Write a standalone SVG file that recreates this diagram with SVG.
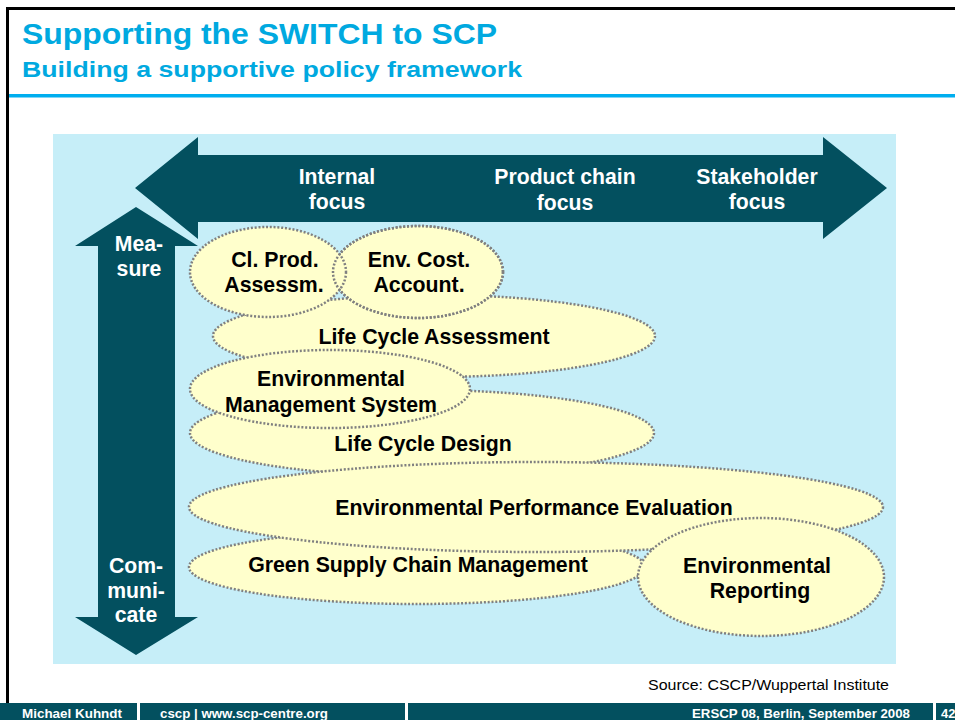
<svg xmlns="http://www.w3.org/2000/svg" width="955" height="720" viewBox="0 0 955 720">
<style>
.t{font-family:"Liberation Sans",Arial,sans-serif;font-weight:bold}
.title{fill:#00A9E0}
.w{fill:#fff;font-size:21.2px;text-anchor:middle}
.e{fill:#FFFFCC;stroke:#808080;stroke-width:2.5;stroke-dasharray:2 1.8}
.o{fill:none;stroke:#808080;stroke-width:2.5;stroke-dasharray:2 1.8}
.k{fill:#000;font-size:21.3px;text-anchor:middle}
.ft{fill:#fff;font-size:13px}
.teal{fill:#03505F}
</style>
<rect x="0" y="0" width="955" height="720" fill="#fff"/>
<!-- frame -->
<line x1="6" y1="8.5" x2="955" y2="8.5" stroke="#000" stroke-width="3"/>
<line x1="7.5" y1="7" x2="7.5" y2="705" stroke="#000" stroke-width="3"/>
<rect x="9" y="94" width="946" height="3.5" fill="#00AEEF"/>
<text class="t title" x="22" y="44" font-size="30" textLength="475" lengthAdjust="spacingAndGlyphs">Supporting the SWITCH to SCP</text>
<text class="t title" x="22" y="77" font-size="22.5" textLength="500" lengthAdjust="spacingAndGlyphs">Building a supportive policy framework</text>
<!-- panel -->
<rect x="53" y="134" width="843" height="530" fill="#C6EEF8"/>
<g id="horizontal-arrow">
<polygon class="teal" points="135,188 198,137 198,155 823,155 823,137 887,188 823,239 823,222 198,222 198,239"/>
<text class="t w" x="337" y="184">Internal</text>
<text class="t w" x="337" y="209">focus</text>
<text class="t w" x="565" y="184">Product chain</text>
<text class="t w" x="565" y="210">focus</text>
<text class="t w" x="757" y="184">Stakeholder</text>
<text class="t w" x="757" y="209">focus</text>
</g>
<g id="vertical-arrow">
<polygon class="teal" points="136,207 198,246 175,246 175,617 198,617 136,655 75,617 98,617 98,246 75,246"/>
<text class="t w" x="139" y="251">Mea-</text>
<text class="t w" x="139" y="276">sure</text>
<text class="t w" x="136" y="573">Com-</text>
<text class="t w" x="136" y="598">muni-</text>
<text class="t w" x="136" y="622">cate</text>
</g>
<g id="lca">
<ellipse class="e" cx="434" cy="336" rx="221" ry="41"/>
<text class="t k" x="434" y="344">Life Cycle Assessment</text>
</g>
<g id="lcd">
<ellipse class="e" cx="422" cy="433" rx="232" ry="43"/>
<text class="t k" x="423" y="451">Life Cycle Design</text>
</g>
<g id="ems">
<ellipse class="e" cx="330" cy="389" rx="140" ry="39"/>
<text class="t k" x="331" y="386">Environmental</text>
<text class="t k" x="331" y="412">Management System</text>
</g>
<g id="env-cost">
<ellipse class="e" cx="418" cy="272" rx="85" ry="46"/>
</g>
<g id="cl-prod">
<ellipse class="e" cx="268" cy="272" rx="78" ry="45"/>
<ellipse class="o" cx="418" cy="272" rx="85" ry="46"/>
<text class="t k" x="275" y="267">Cl. Prod.</text>
<text class="t k" x="274" y="292">Assessm.</text>
<text class="t k" x="419" y="267">Env. Cost.</text>
<text class="t k" x="419" y="292">Account.</text>
</g>
<g id="gscm">
<ellipse class="e" cx="417" cy="567" rx="228" ry="37"/>
<text class="t k" x="418" y="572">Green Supply Chain Management</text>
</g>
<g id="epe">
<ellipse class="e" cx="536" cy="507" rx="347" ry="45"/>
<text class="t k" x="534" y="515">Environmental Performance Evaluation</text>
</g>
<g id="env-reporting">
<ellipse class="e" cx="761" cy="577" rx="123" ry="59"/>
<text class="t k" x="757" y="573">Environmental</text>
<text class="t k" x="760" y="598">Reporting</text>
</g>
<g id="connectors"></g>
<text x="889" y="690" font-family="Liberation Sans,Arial,sans-serif" font-size="15.5" text-anchor="end" fill="#000" textLength="241" lengthAdjust="spacingAndGlyphs">Source: CSCP/Wuppertal Institute</text>
<!-- footer -->
<rect x="0" y="703" width="137" height="17" fill="#03505F"/>
<rect x="140" y="703" width="265" height="17" fill="#03505F"/>
<rect x="408" y="703" width="525" height="17" fill="#03505F"/>
<rect x="936" y="703" width="19" height="17" fill="#03505F"/>
<text class="t ft" x="22" y="718" textLength="100" lengthAdjust="spacingAndGlyphs">Michael Kuhndt</text>
<text class="t ft" x="160" y="718" textLength="168" lengthAdjust="spacingAndGlyphs">cscp | www.scp-centre.org</text>
<text class="t ft" x="692" y="718" textLength="218" lengthAdjust="spacingAndGlyphs">ERSCP 08, Berlin, September 2008</text>
<text class="t ft" x="941" y="718">42</text>
</svg>
